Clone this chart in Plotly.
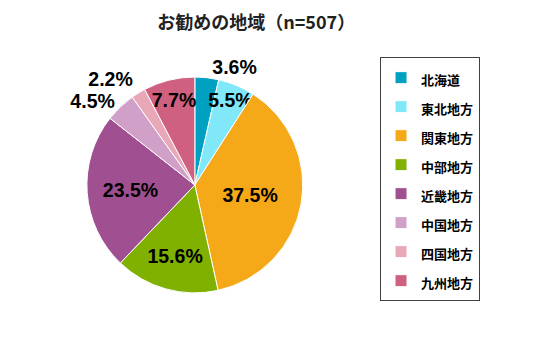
import plotly.graph_objects as go

regions = ["北海道", "東北地方", "関東地方", "中部地方", "近畿地方", "中国地方", "四国地方", "九州地方"]
counts = [18, 28, 190, 79, 119, 23, 11, 39]
colors = ["#00A0C0", "#80E8F8", "#F5A818", "#80B000", "#A05090", "#D0A0C8", "#E8A8B8", "#D06080"]
text_pos = ["outside", "inside", "inside", "inside", "inside", "outside", "outside", "inside"]
title_text = "お勧めの地域（n=507）"

font_family = "Noto Sans CJK JP, Noto Sans, Arial, sans-serif"

legend_labels = [f"<span style='font-size:13px'><b>{r}</b></span>" for r in regions]

fig = go.Figure(go.Pie(
    labels=legend_labels,
    values=counts,
    sort=False,
    direction="clockwise",
    rotation=0,
    marker=dict(colors=colors, line=dict(color="white", width=1)),
    texttemplate="%{percent:.1%}",
    textposition=text_pos,
    insidetextorientation="horizontal",
    textfont=dict(size=19.5, color="black", family="Liberation Sans, Arial, sans-serif", weight="bold"),
    domain=dict(x=[0.162, 0.565], y=[0.175, 0.783]),
    hole=0,
))

fig.update_layout(
    width=536, height=355,
    margin=dict(l=0, r=0, t=0, b=0),
    paper_bgcolor="white",
    plot_bgcolor="white",
    font=dict(family=font_family, color="black"),
    title=dict(text=f"<b>{title_text}</b>", x=0.478, xanchor="center", y=0.935, yanchor="middle",
               font=dict(size=18, family=font_family, color="#222")),
    showlegend=True,
    legend=dict(
        x=0.709, xanchor="left", y=0.839, yanchor="top",
        bordercolor="#404040", borderwidth=1, bgcolor="white",
        font=dict(size=20, family=font_family, color="black"),
        traceorder="normal",
    ),
    uniformtext=dict(minsize=19, mode="show"),
)

# Excel-style chart has no leader lines for outside labels
hide_lines = "document.querySelectorAll('path.textline').forEach(function(e){e.style.display='none';});"
fig.write_html("out.html", post_script=hide_lines)
